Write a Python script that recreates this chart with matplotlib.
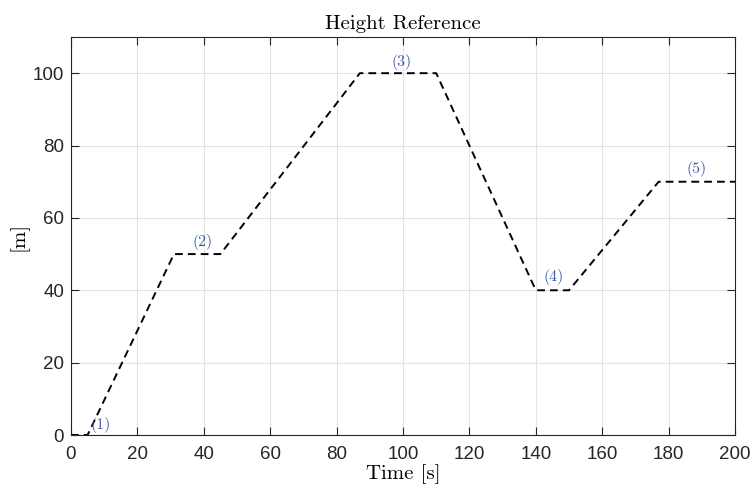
"""Height reference profile: piecewise linear set-point over time."""

import matplotlib
matplotlib.use("Agg")
import matplotlib.pyplot as plt

# breakpoints of the reference trajectory
time_pts = [0, 5, 31, 45, 87, 110, 140, 150, 177, 200]
height_pts = [0, 0, 50, 50, 100, 100, 40, 40, 70, 70]

# phase labels and where they sit
phase_labels = ["(1)", "(2)", "(3)", "(4)", "(5)"]
phase_x = [9, 39.5, 99.5, 145.5, 188.5]
phase_y = [2.8, 53.3, 103, 43.7, 73.6]

serif = "cmr10"
sans = "Liberation Sans"

fig = plt.figure(figsize=(7.55, 4.92), dpi=100)
ax = fig.add_axes([71 / 755, 57 / 492, 664 / 755, 398 / 492])

ax.plot(time_pts, height_pts, color="black", linestyle=(0, (4, 2.6)), linewidth=1.4)

for lbl, x, y in zip(phase_labels, phase_x, phase_y):
    ax.text(x, y, lbl, ha="center", va="center", fontsize=11.5,
            family=serif, color="#3b5ca6")

ax.set_xlim(0, 200)
ax.set_ylim(0, 110)
ax.set_xticks(range(0, 201, 20))
ax.set_yticks(range(0, 101, 20))
ax.grid(True, color="#e3e3e3", linewidth=0.8)
ax.set_axisbelow(True)
ax.tick_params(direction="in", top=True, right=True, length=6, width=0.8,
               labelsize=13.5, colors="#262626")
ax.tick_params(axis="x", pad=8)
ax.tick_params(axis="y", pad=5)
for lab in ax.get_xticklabels() + ax.get_yticklabels():
    lab.set_family(sans)
for sp in ax.spines.values():
    sp.set_color("#262626")
    sp.set_linewidth(0.8)

ax.set_title("Height Reference", family=serif, fontsize=15, pad=6)
ax.set_xlabel("Time [s]", family=serif, fontsize=15, labelpad=1)
ax.set_ylabel("[m]", family=serif, fontsize=15, labelpad=3)

fig.savefig("out.png", dpi=100)
